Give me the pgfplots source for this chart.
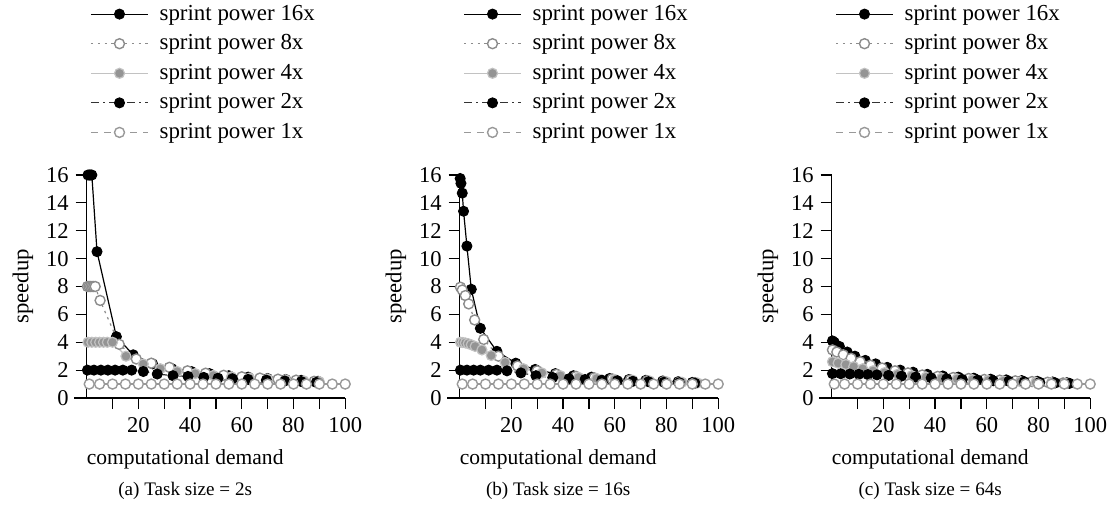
\documentclass[border=0pt]{standalone}
\usepackage{fontspec}
\setmainfont{Liberation Serif}
\usepackage{pgfplots}
\pgfplotsset{compat=1.18}
\definecolor{g8}{gray}{0.55}
\definecolor{g4l}{gray}{0.76}
\definecolor{g4f}{gray}{0.58}
\definecolor{g1}{gray}{0.6}
\pgfplotsset{
  s16/.style={black, solid, line width=0.6bp, mark=*, mark size=2.5bp, mark options={solid, fill=black, draw=black, line width=0.5bp}},
  s8/.style={g8, line width=0.6bp, dash pattern=on 1.2bp off 2.2bp, mark=*, mark size=2.5bp, mark options={solid, fill=white, draw=g8, line width=0.7bp}},
  s4/.style={g4l, line width=0.6bp, solid, mark=*, mark size=2.5bp, mark options={solid, fill=g4f, draw=g4l, line width=0.6bp}},
  s2/.style={black!80, line width=0.6bp, dash pattern=on 4bp off 2bp on 1bp off 2bp, mark=*, mark size=2.5bp, mark options={solid, fill=black, draw=black, line width=0.5bp}},
  s1/.style={g1, line width=0.6bp, dash pattern=on 3.5bp off 3bp, mark=*, mark size=2.5bp, mark options={solid, fill=white, draw=g1, line width=0.7bp}},
  myaxis/.style={
    scale only axis, width=135.6bp, height=111.5bp,
    xmin=-4.9, xmax=100, ymin=0, ymax=16,
    axis x line=bottom, axis y line=middle,
    axis line style={-, line width=0.6bp, black},
    tick align=outside,
    hide obscured y ticks=false, hide obscured x ticks=false,
    xtick={10,20,...,100}, xticklabels={,20,,40,,60,,80,,100},
    ytick={0,2,...,16},
    major tick length=5.5bp,
    tick style={line width=0.6bp, black},
    /pgf/number format/assume math mode=true,
    ticklabel style={font=\fontsize{11.3}{12}\selectfont},
    xticklabel style={yshift=-0.5bp},
    xlabel={computational demand}, ylabel={speedup},
    every axis x label/.style={at={(axis description cs:0.41,-0.2735)}, anchor=center, font=\fontsize{10.8}{12}\selectfont},
    every axis y label/.style={at={(axis description cs:-0.188,0.5)}, anchor=center, rotate=90, font=\fontsize{11.4}{12}\selectfont},
    legend cell align=left,
    legend image code/.code={\draw[mark repeat=2, mark phase=2, ##1] plot coordinates {(0bp,0bp) (14.25bp,0bp) (28.5bp,0bp)};},
    legend style={at={(axis description cs:0.059,1.773)}, anchor=north west, draw=none, fill=none, inner sep=0pt,
      font=\fontsize{11.5}{13}\selectfont, row sep=3.7bp,
      nodes={inner sep=1bp},
      /tikz/every odd column/.append style={column sep=4.5bp}},
    clip=false,
  }
}
\begin{document}
\begin{tikzpicture}
\path[use as bounding box] (-37bp,-58bp) rectangle (519.5bp,199bp);
% ---------------- (a)
\begin{axis}[myaxis, at={(0bp,0bp)}, anchor=south west]
\addplot[s16] table {
0.5 16
1 16
1.5 16
2 16
4 10.5
11.5 4.4
18 3.1
25.5 2.45
33 2.1
40.5 1.9
47.5 1.75
55 1.6
62.5 1.5
70 1.4
77 1.33
83 1.27
89.5 1.2
};
\addplot[s8] table {
0.3 8
0.9 8
1.5 8
2.1 8
2.7 8
3.3 8
5.2 7.0
12.6 3.85
19.2 2.8
25 2.5
32 2.2
39 1.95
46 1.78
53 1.63
60 1.52
67 1.43
74 1.35
81 1.28
88 1.2
};
\addplot[s4] table {
0.5 4
2 4
3.5 4
5 4
6.5 4
8 4
10 4
15.2 3.0
21.9 2.44
28.5 2.1
35 1.9
42 1.75
49 1.62
56 1.52
63 1.43
70 1.36
77 1.3
84 1.23
90 1.17
};
\addplot[s2] table {
0.3 2
2.8 2
5.5 2
8.2 2
11 2
14 2
17.4 2
21.9 1.9
27.3 1.72
33.4 1.6
39.2 1.55
45.3 1.48
50.8 1.42
56.4 1.38
62.4 1.33
69.5 1.28
76.6 1.22
83 1.18
88.8 1.12
};
\addplot[s1] table {
1 1
5 1
10 1
15 1
20 1
25 1
30 1
35 1
40 1
45 1
50 1
55 1
60 1
65 1
70 1
75 1
80 1
85 1
90 1
95 1
100 1
};
\legend{sprint power 16x, sprint power 8x, sprint power 4x, sprint power 2x, sprint power 1x}
\node[font=\fontsize{9.6}{11}\selectfont] at (axis description cs:0.41,-0.417) {(a) Task size = 2s};
\end{axis}
% ---------------- (b)
\begin{axis}[myaxis, at={(186.5bp,0bp)}, anchor=south west]
\addplot[s16] table {
0.2 15.75
0.5 15.4
1 14.7
1.5 13.4
2.8 10.9
4.5 7.8
8 5.0
14.4 3.35
21.7 2.5
29.2 2.05
37 1.75
44 1.6
51 1.5
58 1.4
65.5 1.33
72 1.27
78.5 1.22
84.5 1.17
90 1.12
};
\addplot[s8] table {
0.3 7.95
1 7.75
2.2 7.35
3.5 6.75
5.8 5.6
9.3 4.2
15 3.0
22.4 2.3
30 1.95
37.5 1.7
45 1.55
52 1.45
59 1.37
66 1.3
72.5 1.24
79 1.19
85 1.14
91 1.1
};
\addplot[s4] table {
0.3 4
1.2 3.98
2.2 3.95
3.3 3.9
4.5 3.82
6 3.7
8.6 3.45
12.2 3.05
17.6 2.55
24.7 2.1
31.8 1.8
39 1.6
46 1.48
53 1.4
60 1.33
67 1.27
73.5 1.22
80 1.17
86 1.13
92 1.08
};
\addplot[s2] table {
0.3 2
2.8 2
5.4 2
8 2
11.2 2
14.4 2
18.3 1.95
23.7 1.8
29.5 1.6
36 1.47
42.3 1.38
48.5 1.33
55 1.28
61 1.24
67 1.2
73 1.17
79 1.13
85 1.1
91 1.06
};
\addplot[s1] table {
1 1
5 1
10 1
15 1
20 1
25 1
30 1
35 1
40 1
45 1
50 1
55 1
60 1
65 1
70 1
75 1
80 1
85 1
90 1
95 1
100 1
};
\legend{sprint power 16x, sprint power 8x, sprint power 4x, sprint power 2x, sprint power 1x}
\node[font=\fontsize{9.6}{11}\selectfont] at (axis description cs:0.41,-0.417) {(b) Task size = 16s};
\end{axis}
% ---------------- (c)
\begin{axis}[myaxis, at={(372.5bp,0bp)}, anchor=south west]
\addplot[s16] table {
0.3 4.1
1 4.0
3 3.7
6 3.3
9 3.0
13 2.7
17 2.45
21.5 2.2
26.5 2.0
31.5 1.85
37 1.7
43 1.58
49 1.5
55 1.42
61.5 1.35
67.5 1.3
73.5 1.25
79.5 1.2
85.5 1.15
91 1.1
};
\addplot[s8] table {
0.3 3.45
2 3.3
4.5 3.1
7.5 2.85
11 2.6
15 2.35
19.5 2.15
24.5 1.95
29.5 1.8
35 1.65
41 1.55
47 1.47
53 1.4
59 1.33
65 1.28
71 1.23
77.5 1.18
83.5 1.13
89.5 1.08
};
\addplot[s4] table {
0.3 2.6
2.5 2.5
5.5 2.4
8.5 2.25
12 2.1
16 1.95
20.5 1.82
25.5 1.7
31 1.6
36.5 1.5
42.5 1.43
48.5 1.37
54.5 1.31
60.5 1.26
66.5 1.22
73 1.17
79 1.13
85 1.1
91 1.06
};
\addplot[s2] table {
0.3 1.75
3.5 1.74
7 1.72
10.5 1.7
14 1.68
17.5 1.66
22 1.62
27 1.57
32.5 1.5
38.5 1.44
44.5 1.38
50.5 1.33
56.5 1.28
62.5 1.24
68.5 1.2
74.5 1.16
80.5 1.12
86.5 1.08
92 1.05
};
\addplot[s1] table {
1 1
5 1
10 1
15 1
20 1
25 1
30 1
35 1
40 1
45 1
50 1
55 1
60 1
65 1
70 1
75 1
80 1
85 1
90 1
95 1
100 1
};
\legend{sprint power 16x, sprint power 8x, sprint power 4x, sprint power 2x, sprint power 1x}
\node[font=\fontsize{9.6}{11}\selectfont] at (axis description cs:0.41,-0.417) {(c) Task size = 64s};
\end{axis}
\end{tikzpicture}
\end{document}
